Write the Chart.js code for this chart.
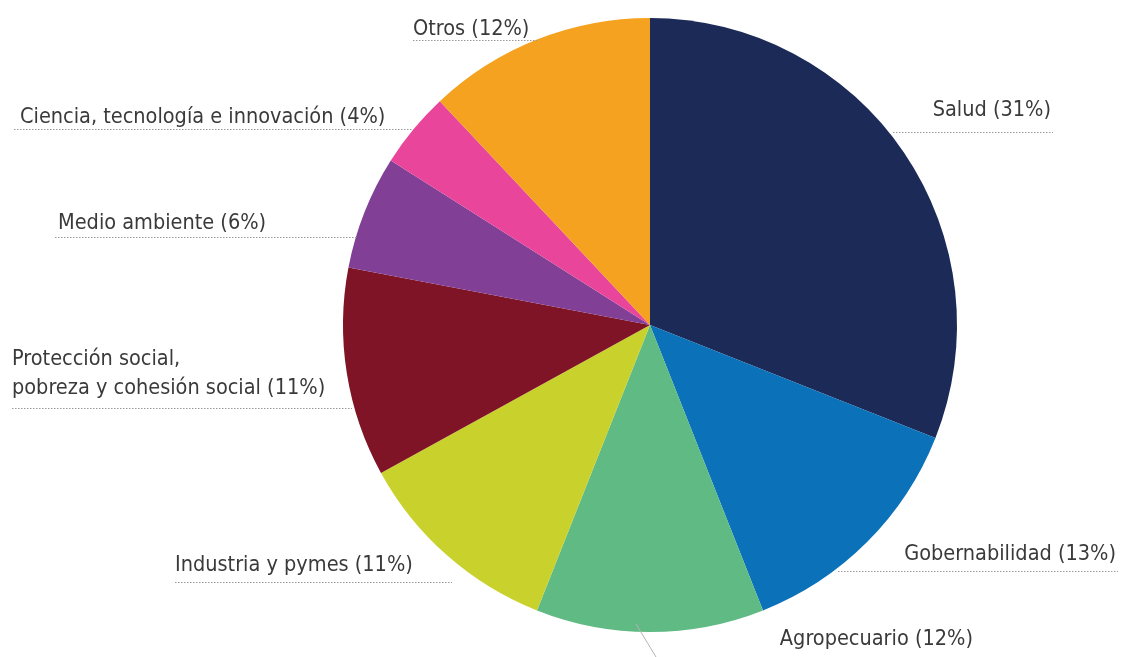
<!DOCTYPE html>
<html>
<head>
<meta charset="utf-8">
<script src="https://cdn.jsdelivr.net/npm/chart.js@4.4.0/dist/chart.umd.min.js"></script>
<style>
  html, body { margin: 0; padding: 0; background: #ffffff; }
  #wrap { width: 1125px; height: 657px; position: relative; }
</style>
</head>
<body>
<div id="wrap"><canvas id="c" width="1125" height="657"></canvas></div>
<script>
// Sectores (en el sentido de las agujas del reloj, desde arriba)
const categories = [
  'Salud',
  'Gobernabilidad',
  'Agropecuario',
  'Industria y pymes',
  'Protección social,\npobreza y cohesión social',
  'Medio ambiente',
  'Ciencia, tecnología e innovación',
  'Otros'
];
const shares = [31, 13, 12, 11, 11, 6, 4, 12];
const sliceColors = [
  '#1b2a56', '#0b72ba', '#5fba84', '#c9d22c',
  '#7e1426', '#823f96', '#e9469b', '#f4a21f'
];

// Colocación de cada etiqueta: x del texto, línea base, alineación y trazo punteado
const labelLayout = [
  { x: 1051, y: 116, align: 'right', line: [893, 1053, 132] },
  { x: 1116, y: 560, align: 'right', line: [838, 1118, 571] },
  { x: 973,  y: 645, align: 'right', leader: [636, 624, 656, 657] },
  { x: 175,  y: 571, align: 'left',  line: [175, 452, 582] },
  { x: 12,   y: 394, align: 'left',  line: [12, 352, 408], lh: 29 },
  { x: 58,   y: 229, align: 'left',  line: [55, 357, 237] },
  { x: 20,   y: 123, align: 'left',  line: [14, 412, 129] },
  { x: 413,  y: 35,  align: 'left',  line: [413, 537, 40] }
];

const labelPlugin = {
  id: 'sliceLabels',
  afterDraw(chart) {
    const ctx = chart.ctx;
    ctx.save();
    ctx.font = '21.5px "DejaVu Sans Condensed", "DejaVu Sans", sans-serif';
    ctx.fillStyle = '#3a3a3a';
    ctx.textBaseline = 'alphabetic';
    categories.forEach((name, i) => {
      const L = labelLayout[i];
      const lines = (name + ' (' + shares[i] + '%)').split('\n');
      ctx.textAlign = L.align;
      const lh = L.lh || 0;
      lines.forEach((t, k) => {
        ctx.fillText(t, L.x, L.y - (lines.length - 1 - k) * lh);
      });
      ctx.strokeStyle = '#9a9a9a';
      ctx.lineWidth = 1;
      if (L.line) {
        ctx.setLineDash([1.5, 1.5]);
        ctx.beginPath();
        ctx.moveTo(L.line[0], L.line[2] + 0.5);
        ctx.lineTo(L.line[1], L.line[2] + 0.5);
        ctx.stroke();
      }
      if (L.leader) {
        ctx.setLineDash([]);
        ctx.strokeStyle = '#b5b5b5';
        ctx.beginPath();
        ctx.moveTo(L.leader[0], L.leader[1]);
        ctx.lineTo(L.leader[2], L.leader[3]);
        ctx.stroke();
      }
    });
    ctx.restore();
  }
};

new Chart(document.getElementById('c'), {
  type: 'pie',
  data: {
    labels: categories,
    datasets: [{
      data: shares,
      backgroundColor: sliceColors,
      borderWidth: 0
    }]
  },
  options: {
    responsive: false,
    animation: false,
    layout: { padding: { left: 343, right: 168, top: 18, bottom: 25 } },
    plugins: {
      legend: { display: false },
      tooltip: { enabled: false }
    }
  },
  plugins: [labelPlugin]
});
</script>
</body>
</html>
